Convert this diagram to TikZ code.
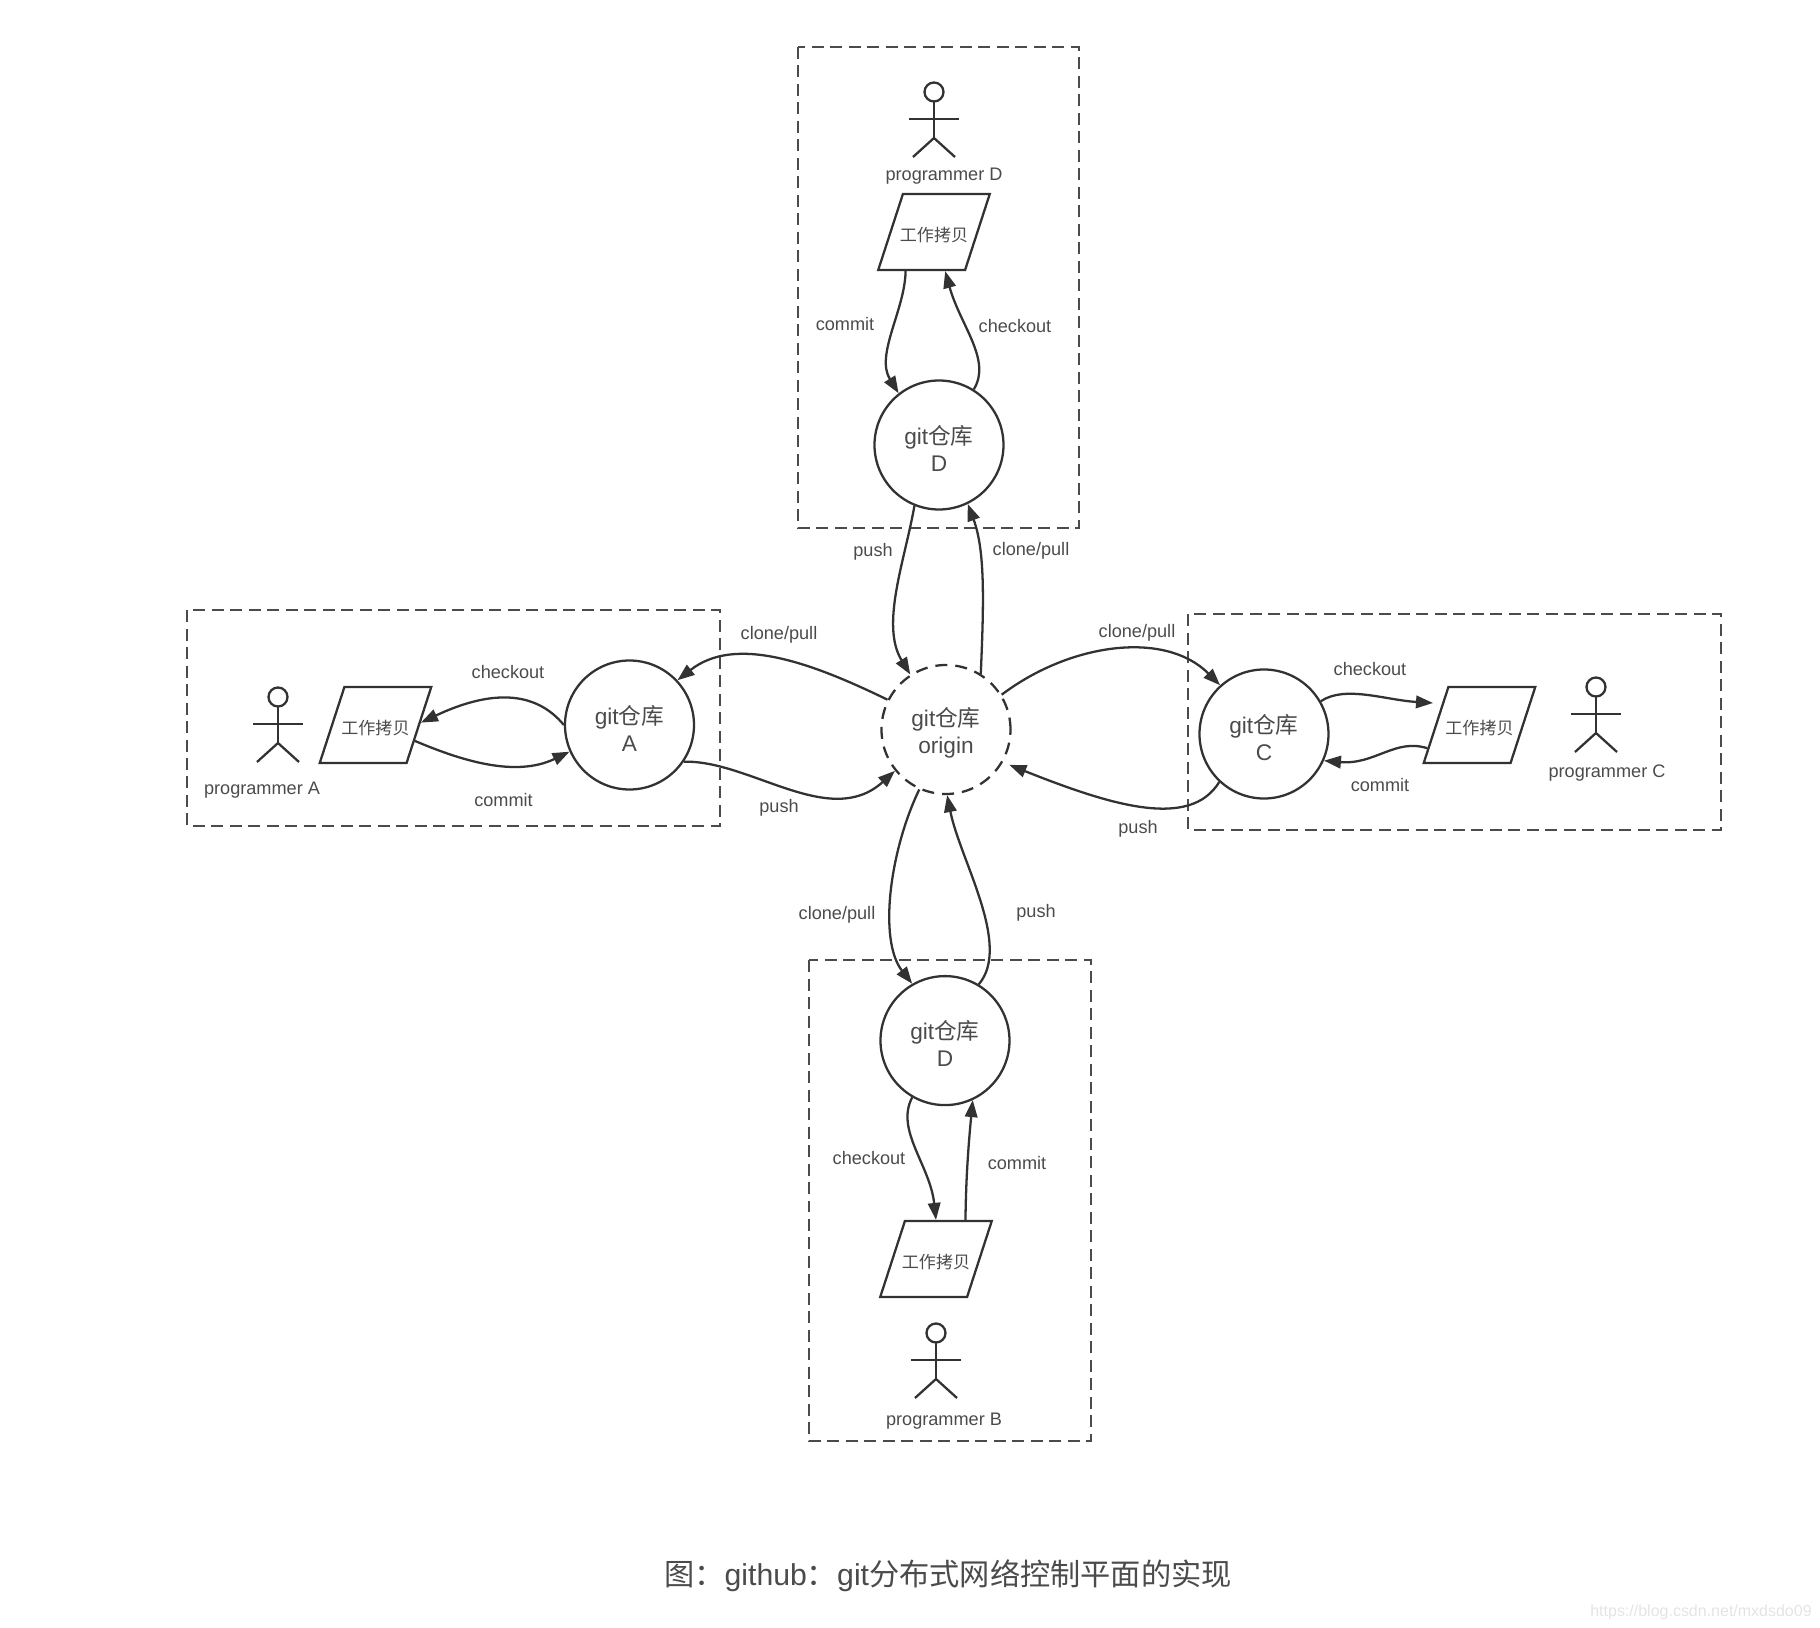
\documentclass[tikz,border=0pt]{standalone}
\usepackage{xcolor}
\usepackage{fontspec}
\usetikzlibrary{shapes.geometric, arrows.meta, positioning}
\setmainfont{Liberation Sans}
\newfontfamily\cjk{Noto Sans CJK SC}
\definecolor{linegray}{RGB}{50,50,50}
\definecolor{textgray}{RGB}{75,75,75}
\definecolor{markgray}{RGB}{228,228,228}
\newcommand{\repotext}[1]{\rule{0pt}{7.3pt}git{\cjk 仓库}\\#1}

\begin{document}
\begin{tikzpicture}[
        line width=0.65pt,
        every node/.style={text=textgray},
        repo/.style={circle, draw=linegray, minimum size=1.29cm, inner sep=0pt, align=center, font=\fontsize{6.45}{7.7}\selectfont},
        copybox/.style={trapezium, draw=linegray, trapezium left angle=72, trapezium right angle=108, trapezium stretches body=true, inner xsep=-0.03cm, inner ysep=8.1pt, text height=5.4pt, text depth=0pt, font=\cjk\fontsize{4.85}{6}\selectfont},
        tag/.style={font=\fontsize{5.16}{6}\selectfont, inner sep=0pt, yshift=-0.01cm},
        group/.style={draw=textgray, line width=0.7pt, dash pattern=on 0.12cm off 0.065cm},
        arrow/.style={-{Triangle[length=1.7mm, width=1.25mm]}, linegray},
        actor/.pic={
            \draw[linegray] (0,0) circle (0.095);
            \draw[linegray] (0,-0.095) -- (0,-0.46) (-0.25,-0.27) -- (0.25,-0.27);
            \draw[linegray] (-0.21,-0.65) -- (0,-0.46) -- (0.21,-0.65);
        }
    ]
        \useasboundingbox (0,0) rectangle (18.20,-16.28);

        % Central repository
        \node[repo, dash pattern=on 0.12cm off 0.08cm] (origin) at (9.46,-7.295) {\repotext{origin}};

        % Programmer D
        \draw[group] (7.98,-0.47) rectangle (10.79,-5.28);
        \pic at (9.34,-0.92) {actor};
        \node[tag] (nameD) at (9.44,-1.75) {programmer D};
        \node[copybox] (copyD) at (9.34,-2.32) {工作拷贝};
        \node[repo] (gitD) at (9.39,-4.45) {\repotext{D}};
        \draw[arrow] (copyD.234) .. controls (9.05,-3.10) and (8.75,-3.55) .. (gitD.128);
        \draw[arrow] (gitD.58) .. controls (9.92,-3.60) and (9.60,-3.25) .. (copyD.286);
        \draw[arrow] (gitD.248) .. controls (9.05,-5.60) and (8.80,-6.25) .. (origin.123);
        \draw[arrow] (origin.58) .. controls (9.84,-6.00) and (9.85,-5.50) .. (gitD.296);
        \node[tag] (commitD) at (8.45,-3.23) {commit};
        \node[tag] (checkoutD) at (10.15,-3.25) {checkout};
        \node[tag] (pushD) at (8.73,-5.51) {push};
        \node[tag] (pullD) at (10.31,-5.50) {clone/pull};

        % Programmer A
        \draw[group] (1.87,-6.10) rectangle (7.20,-8.26);
        \pic at (2.78,-6.97) {actor};
        \node[tag] (nameA) at (2.62,-7.89) {programmer A};
        \node[copybox] (copyA) at (3.755,-7.25) {工作拷贝};
        \node[repo] (gitA) at (6.295,-7.25) {\repotext{A}};
        \draw[arrow] (gitA.180) .. controls (5.35,-6.90) and (4.90,-6.90) .. (copyA.3);
        \draw[arrow] (copyA.338) .. controls (4.60,-7.60) and (5.15,-7.78) .. (gitA.204);
        \draw[arrow] (origin.153) .. controls (8.10,-6.62) and (7.35,-6.35) .. (gitA.43);
        \draw[arrow] (gitA.326) .. controls (7.50,-7.60) and (8.30,-8.30) .. (origin.219);
        \node[tag] (checkoutA) at (5.08,-6.71) {checkout};
        \node[tag] (commitA) at (5.035,-7.99) {commit};
        \node[tag] (pullA) at (7.79,-6.34) {clone/pull};
        \node[tag] (pushA) at (7.79,-8.07) {push};

        % Programmer C
        \draw[group] (11.88,-6.14) rectangle (17.21,-8.30);
        \pic at (15.96,-6.87) {actor};
        \node[tag] (nameC) at (16.07,-7.72) {programmer C};
        \node[copybox] (copyC) at (14.795,-7.25) {工作拷贝};
        \node[repo] (gitC) at (12.64,-7.34) {\repotext{C}};
        \coordinate (tipC) at (14.33,-7.03);
        \draw[arrow] (gitC.30) .. controls (13.45,-6.85) and (13.85,-7.00) .. (tipC);
        \draw[arrow] (copyC.204) .. controls (13.95,-7.38) and (13.75,-7.65) .. (gitC.336);
        \draw[arrow] (origin.32) .. controls (10.70,-6.43) and (11.65,-6.30) .. (gitC.132);
        \draw[arrow, shorten >=0.07cm] (gitC.227) .. controls (11.90,-8.30) and (11.10,-8.05) .. (origin.330);
        \node[tag] (checkoutC) at (13.70,-6.68) {checkout};
        \node[tag] (commitC) at (13.80,-7.84) {commit};
        \node[tag] (pullC) at (11.37,-6.32) {clone/pull};
        \node[tag] (pushC) at (11.38,-8.28) {push};

        % Programmer B
        \draw[group] (8.09,-9.60) rectangle (10.91,-14.41);
        \pic at (9.36,-13.33) {actor};
        \node[tag] (nameB) at (9.44,-14.20) {programmer B};
        \node[copybox] (copyB) at (9.36,-12.59) {工作拷贝};
        \node[repo] (gitB) at (9.45,-10.406) {\repotext{D}};
        \draw[arrow] (gitB.240) .. controls (8.95,-11.30) and (9.30,-11.65) .. (copyB.90);
        \draw[arrow] (copyB.53) .. controls (9.66,-11.80) and (9.68,-11.50) .. (gitB.295);
        \draw[arrow] (origin.246) .. controls (8.90,-8.50) and (8.78,-9.40) .. (gitB.120);
        \draw[arrow] (gitB.59) .. controls (10.12,-9.45) and (9.60,-8.60) .. (origin.271);
        \node[tag] (pullB) at (8.37,-9.14) {clone/pull};
        \node[tag] (pushB) at (10.36,-9.12) {push};
        \node[tag] (checkoutB) at (8.69,-11.57) {checkout};
        \node[tag] (commitB) at (10.17,-11.62) {commit};

        % Caption
        \node[font=\fontsize{8.6}{10}\selectfont, inner sep=0pt] (caption) at (9.48,-15.76) {{\cjk 图：}github{\cjk ：}git{\cjk 分布式网络控制平面的实现}};
        \node[font=\fontsize{4.55}{6}\selectfont, text=markgray, inner sep=0pt] (mark) at (17.01,-16.12) {https://blog.csdn.net/mxdsdo09};

    \end{tikzpicture}
\end{document}
